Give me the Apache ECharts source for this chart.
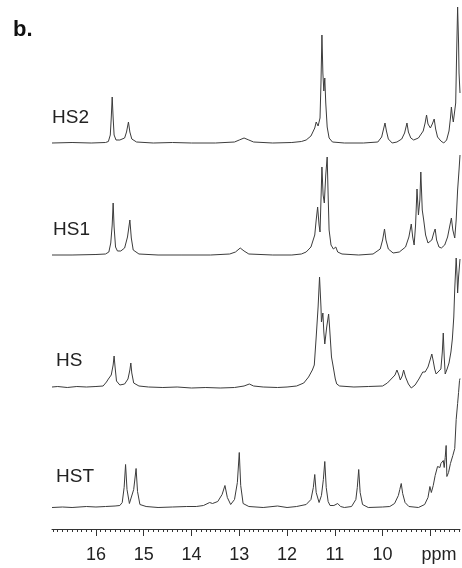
<!DOCTYPE html>
<html>
<head>
<meta charset="utf-8">
<script src="https://cdn.jsdelivr.net/npm/echarts@6/dist/echarts.min.js"></script>
<style>
  html, body { margin: 0; padding: 0; background: #fff; }
  #chart { width: 462px; height: 568px; }
</style>
</head>
<body>
<div id="chart"></div>
<script>
// chemical shift axis (ppm), major ticks and labels
const majorTicks = [16, 15, 14, 13, 12, 11, 10, 9]
const tickLabels = [16, 15, 14, 13, 12, 11, 10]
const unitLabel = 'ppm'
const traceNames = ['HS2', 'HS1', 'HS', 'HST']

// [ppm, intensity], intensity in arbitrary units above each baseline
const hs2 = [
  [16.92, 0], [16.5, 0.5], [16.1, 0], [15.8, 0.5], [15.74, 1.5], [15.70, 8], [15.68, 25], [15.66, 46],
  [15.64, 25], [15.62, 8], [15.58, 3], [15.50, 3], [15.40, 5], [15.36, 11], [15.32, 21], [15.29, 11],
  [15.25, 4], [15.15, 1], [14.8, 0], [14.4, 0.5], [14.0, 0], [13.5, 0], [13.1, 1], [13.00, 3],
  [12.90, 5], [12.80, 3], [12.70, 1], [12.3, 0], [11.9, 0.5], [11.7, 1.5], [11.6, 3], [11.50, 7],
  [11.42, 15], [11.39, 21], [11.35, 17], [11.31, 25], [11.29, 60], [11.27, 108], [11.25, 70], [11.23, 52],
  [11.21, 65], [11.19, 40], [11.16, 16], [11.12, 5], [11.05, 1], [10.8, 0], [10.4, 0], [10.1, 1],
  [10.02, 6], [9.98, 14], [9.95, 20], [9.92, 12], [9.88, 4], [9.80, 0], [9.70, 1], [9.60, 4],
  [9.54, 10], [9.49, 20], [9.46, 11], [9.41, 5], [9.35, 3], [9.25, 5], [9.15, 12], [9.11, 20],
  [9.08, 28], [9.05, 19], [9.00, 15], [8.96, 19], [8.92, 24], [8.89, 14], [8.85, 6], [8.78, 2],
  [8.72, 0], [8.66, 3], [8.61, 12], [8.58, 25], [8.56, 36], [8.54, 27], [8.52, 21], [8.50, 22],
  [8.47, 40], [8.45, 90], [8.43, 136], [8.41, 100], [8.40, 70], [8.38, 50]
]
const hs1 = [
  [16.92, 0], [16.5, 0], [16.0, 0.5], [15.8, 1], [15.73, 3], [15.69, 12], [15.66, 30], [15.64, 52],
  [15.62, 28], [15.59, 8], [15.55, 4], [15.48, 4], [15.40, 7], [15.34, 18], [15.29, 35], [15.26, 17],
  [15.22, 5], [15.1, 1], [14.7, 0], [14.2, 0], [13.6, 0], [13.2, 1], [13.08, 3], [12.98, 7],
  [12.90, 4], [12.80, 1], [12.3, 0], [11.9, 0], [11.7, 1], [11.6, 3], [11.50, 8], [11.42, 20],
  [11.39, 35], [11.36, 48], [11.33, 30], [11.31, 23], [11.29, 55], [11.27, 88], [11.245, 60], [11.22, 52],
  [11.19, 80], [11.16, 98], [11.14, 60], [11.12, 25], [11.08, 10], [11.03, 6], [10.98, 8], [10.94, 3],
  [10.85, 1], [10.5, 0], [10.2, 1], [10.05, 6], [10.0, 15], [9.96, 26], [9.93, 15], [9.88, 6],
  [9.78, 2], [9.65, 3], [9.52, 8], [9.45, 18], [9.40, 31], [9.37, 18], [9.34, 10], [9.31, 30],
  [9.28, 66], [9.25, 40], [9.22, 55], [9.20, 83], [9.17, 45], [9.14, 35], [9.10, 20], [9.05, 12],
  [9.02, 10], [8.97, 15], [8.93, 22], [8.90, 26], [8.87, 15], [8.82, 8], [8.77, 7], [8.70, 10],
  [8.64, 18], [8.59, 30], [8.56, 37], [8.53, 25], [8.49, 17], [8.46, 35], [8.43, 65], [8.40, 85],
  [8.38, 100]
]
const hs = [
  [16.92, 0], [16.8, 0.5], [16.6, -0.5], [16.4, 0.5], [16.2, 0], [16.0, 0.5], [15.85, 1], [15.78, 5],
  [15.74, 8], [15.68, 12], [15.64, 22], [15.62, 31], [15.60, 20], [15.57, 6], [15.50, 2], [15.40, 3],
  [15.33, 8], [15.29, 17], [15.27, 24], [15.25, 14], [15.21, 4], [15.1, 1], [14.9, 0], [14.6, -0.5],
  [14.3, 0], [14.0, -1], [13.7, -0.5], [13.4, -1], [13.1, -0.5], [12.9, 1], [12.79, 3], [12.7, 1],
  [12.5, 0], [12.2, -0.5], [12.0, 0], [11.8, 1], [11.65, 4], [11.55, 10], [11.47, 17], [11.43, 22],
  [11.39, 50], [11.35, 80], [11.32, 110], [11.29, 80], [11.28, 65], [11.25, 74], [11.23, 55], [11.21, 43],
  [11.17, 60], [11.13, 73], [11.11, 60], [11.07, 30], [11.04, 22], [11.02, 20], [10.99, 8], [10.96, 3],
  [10.9, 1], [10.6, 0], [10.3, 0.5], [10.0, 1], [9.90, 4], [9.80, 9], [9.74, 12], [9.70, 17],
  [9.66, 12], [9.63, 7], [9.59, 11], [9.56, 17], [9.52, 10], [9.46, 3], [9.40, -1], [9.32, 2],
  [9.24, 8], [9.16, 15], [9.11, 15], [9.05, 20], [9.00, 28], [8.97, 33], [8.94, 26], [8.91, 18],
  [8.88, 13], [8.84, 14], [8.78, 18], [8.75, 35], [8.73, 54], [8.71, 30], [8.69, 13], [8.65, 18],
  [8.61, 24], [8.57, 35], [8.54, 48], [8.51, 70], [8.49, 98], [8.46, 129], [8.44, 110], [8.43, 94],
  [8.41, 110], [8.38, 128]
]
const hst = [
  [16.92, 0], [16.7, 0.5], [16.5, 0], [16.2, 1], [16.0, 0.5], [15.8, 1], [15.6, 1.5], [15.5, 2],
  [15.45, 5], [15.41, 20], [15.38, 43], [15.35, 18], [15.30, 4], [15.26, 4], [15.21, 18], [15.16, 39],
  [15.13, 16], [15.08, 3], [14.95, 1], [14.7, 0], [14.4, 0.5], [14.1, 1], [13.9, 1], [13.75, 2],
  [13.62, 5], [13.56, 4], [13.45, 6], [13.36, 13], [13.30, 22], [13.25, 10], [13.18, 3], [13.10, 8],
  [13.04, 25], [13.00, 55], [12.97, 22], [12.92, 4], [12.8, 1], [12.5, 0], [12.2, 1.5], [12.0, 0],
  [11.8, 1], [11.6, 3], [11.5, 8], [11.45, 20], [11.42, 33], [11.39, 15], [11.33, 5], [11.28, 12],
  [11.24, 28], [11.21, 46], [11.18, 20], [11.14, 6], [11.10, 2], [11.06, 4], [11.02, 2], [10.94, 4],
  [10.88, 1], [10.8, 0], [10.65, 1], [10.56, 8], [10.53, 20], [10.50, 38], [10.47, 15], [10.42, 3],
  [10.3, 0], [10.0, 0.5], [9.85, 1], [9.75, 4], [9.67, 12], [9.64, 18], [9.61, 24], [9.58, 14],
  [9.53, 5], [9.45, 1], [9.25, 0], [9.12, 3], [9.05, 10], [9.01, 21], [8.98, 15], [8.94, 22],
  [8.90, 32], [8.85, 41], [8.80, 40], [8.78, 44], [8.75, 42], [8.73, 47], [8.71, 40], [8.69, 50],
  [8.67, 62], [8.655, 31], [8.62, 35], [8.58, 44], [8.53, 52], [8.49, 59], [8.46, 88], [8.43, 104],
  [8.41, 115], [8.39, 127], [8.38, 129]
]
const traces = [hs2, hs1, hs, hst]

// layout: pixel row of each baseline, label centre rows
const PLOT_H = 529
const baselines = [143, 255, 387, 507.5]
const labelPos = [[52, 118], [53, 230], [56, 361], [56, 477]]
const X_MIN = 8.38
const X_MAX = 16.92

const minorTicks = []
for (let v = 84; v <= 169; v++) minorTicks.push(v / 10)

const FONT = '"Liberation Sans", Arial, sans-serif'
const INK = '#333'

const chart = echarts.init(document.getElementById('chart'), null, { renderer: 'canvas' })

chart.setOption({
  backgroundColor: '#fff',
  animation: false,
  grid: { left: 52, right: 2, top: 0, bottom: 568 - PLOT_H },
  xAxis: [
    {
      type: 'value', inverse: true, min: X_MIN, max: X_MAX, position: 'bottom',
      axisLine: { show: true, onZero: false, lineStyle: { color: INK, width: 1 } },
      axisTick: { show: true, customValues: majorTicks, length: 7, lineStyle: { color: INK } },
      axisLabel: {
        customValues: tickLabels, margin: 17, color: '#222', fontSize: 18, fontFamily: FONT,
      },
      splitLine: { show: false },
    },
    {
      type: 'value', inverse: true, min: X_MIN, max: X_MAX, position: 'bottom',
      axisLine: { show: false, onZero: false },
      axisTick: { show: true, customValues: minorTicks, length: 3, lineStyle: { color: INK } },
      axisLabel: { show: false },
      splitLine: { show: false },
    },
  ],
  yAxis: baselines.map((b) => ({
    type: 'value', show: false, min: -(PLOT_H - b), max: b, splitLine: { show: false },
  })),
  series: traces.map((d, i) => ({
    name: traceNames[i],
    type: 'line',
    xAxisIndex: 0,
    yAxisIndex: i,
    data: d,
    showSymbol: false,
    symbol: 'none',
    clip: false,
    lineStyle: { color: '#3c3c3c', width: 1 },
  })),
  graphic: [
    {
      type: 'text', x: 13, y: 30,
      style: { text: 'b.', font: 'bold 22px ' + FONT, fill: '#111', verticalAlign: 'middle' },
    },
    ...traceNames.map((t, i) => ({
      type: 'text', x: labelPos[i][0], y: labelPos[i][1],
      style: { text: t, font: '19px ' + FONT, fill: '#222', verticalAlign: 'middle' },
    })),
    {
      type: 'text', x: 439, y: 555.5,
      style: { text: unitLabel, font: '18px ' + FONT, fill: '#222', align: 'center', verticalAlign: 'middle' },
    },
  ],
})
</script>
</body>
</html>
